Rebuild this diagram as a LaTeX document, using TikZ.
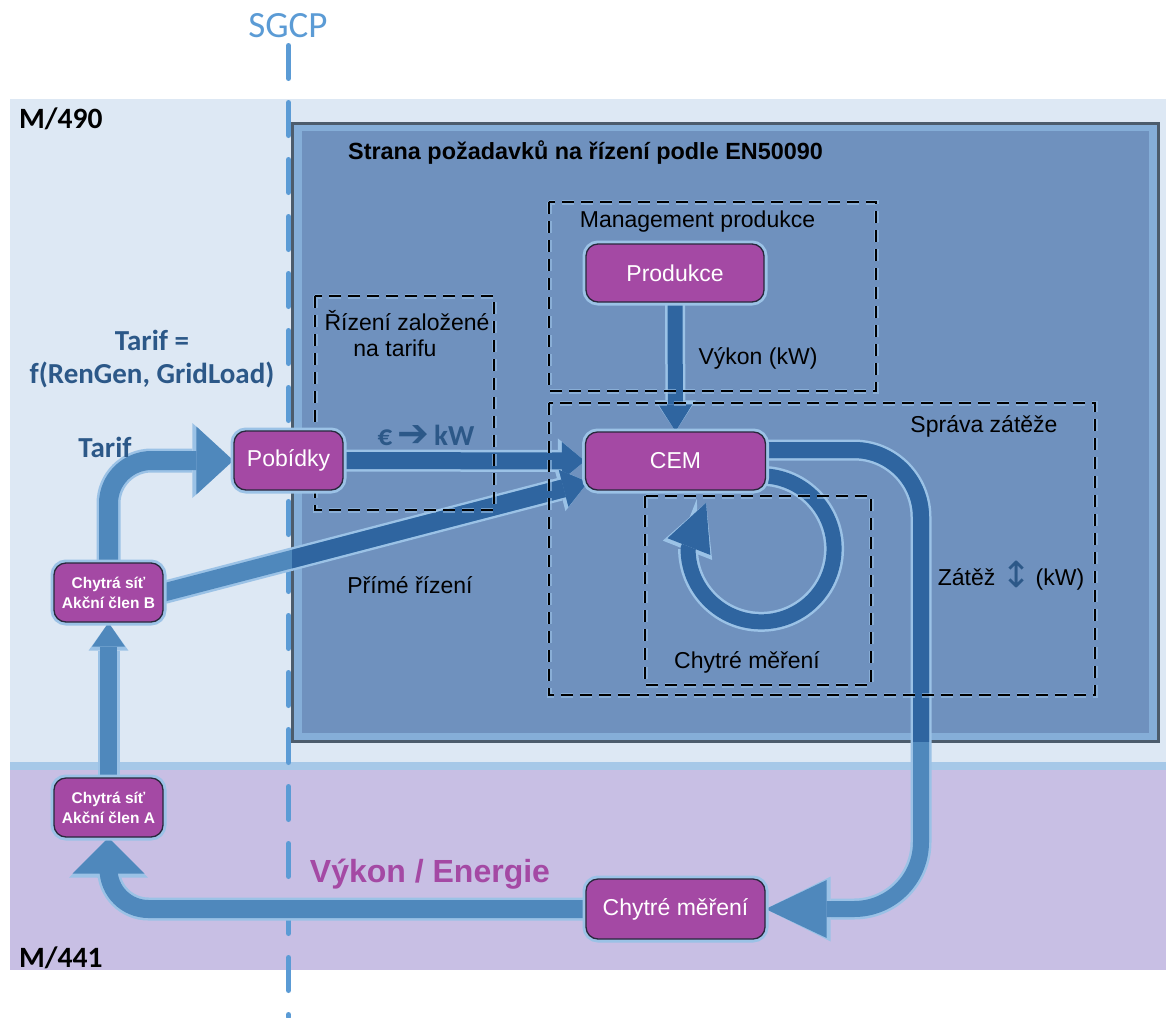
\documentclass[tikz,border=0pt]{standalone}
\usepackage{fontspec}
\setmainfont{Liberation Sans}
\newfontfamily\carl{Carlito}
\newfontfamily\dejavu{DejaVu Sans}
\usetikzlibrary{arrows.meta,calc}

\definecolor{bandblue}{RGB}{221,232,244}
\definecolor{bandline}{RGB}{166,200,232}
\definecolor{lav}{RGB}{200,191,228}
\definecolor{boxborder}{RGB}{76,92,108}
\definecolor{boxrim}{RGB}{133,174,216}
\definecolor{boxfill}{RGB}{111,145,190}
\definecolor{purp}{RGB}{164,73,164}
\definecolor{nodeedge}{RGB}{40,40,60}
\definecolor{arrlight}{RGB}{79,136,188}
\definecolor{arrdark}{RGB}{47,101,160}
\definecolor{glowc}{RGB}{155,194,230}
\definecolor{sgcpc}{RGB}{91,155,213}
\definecolor{tarifc}{RGB}{44,88,136}

\pgfdeclarelayer{bgl}
\pgfdeclarelayer{arrl}
\pgfdeclarelayer{dashl}
\pgfsetlayers{bgl,arrl,dashl,main}

% block arrows: a soft halo pass, then the arrow body
\newif\ifglowpass
\def\splitcol{split}
\newcommand\blockarrow[6]{% #1 path options, #2 colour, #3 shaft, #4 head width, #5 head length, #6 path
  \pgfmathsetmacro\gshaft{#3+5}%
  \pgfmathsetmacro\gwidth{#4+7}%
  \pgfmathsetmacro\glength{#5+4}%
  \ifglowpass
    \draw[#1, color=glowc, line width=\gshaft pt,
      -{Triangle[width=\gwidth pt, length=\glength pt, line width=0pt]}] #6;
  \else
    \def\tmpcol{#2}%
    \ifx\tmpcol\splitcol
      \draw[#1, color=arrlight, line width=#3pt,
        -{Triangle[width=#4pt, length=#5pt, line width=0pt]}] #6;
      \begin{scope}
        \clip (292,123) rectangle (1159,741);
        \draw[#1, color=arrdark, line width=#3pt,
          -{Triangle[width=#4pt, length=#5pt, line width=0pt]}] #6;
      \end{scope}
    \else
      \draw[#1, color=#2, line width=#3pt,
        -{Triangle[width=#4pt, length=#5pt, line width=0pt]}] #6;
    \fi
  \fi}

\newcommand\allarrows{%
  \blockarrow{rounded corners=43pt}{arrlight}{19}{68}{37}{(actB.north) |- (pob.west)}%
  \blockarrow{}{arrdark}{17}{38}{23}{(pob.east) -- (cem.west)}%
  \blockarrow{}{split}{18}{38}{25}{(actB.east) -- (cemlow)}%
  \blockarrow{}{arrdark}{15}{34}{27}{(prod.south) -- (cem.north)}%
  \blockarrow{}{arrdark}{15}{46}{47}{(cemloop) arc[start angle=-86, end angle=180, radius=73] -- ++(18,-46)}%
  \blockarrow{rounded corners=67pt}{split}{16}{58}{61}{(cemout) -- (cemout -| bigcol) -- (bigcol |- meter.east) -- (meter.east)}%
  \blockarrow{}{arrlight}{17}{33}{24}{(actA.north) -- (actB.south)}%
  \blockarrow{rounded corners=40pt}{arrlight}{18}{72}{36}{(meter.west) -| (actA.south)}%
}

\begin{document}
\begin{tikzpicture}[x=1pt, y=-1pt,
  lbl/.style={inner sep=0pt, anchor=base, font=\fontsize{23}{27}\selectfont},
  unit/.style={rounded corners=12pt, fill=purp, draw=nodeedge, line width=1.3pt,
    text=white, inner sep=0pt, font=\fontsize{23}{27}\selectfont,
    preaction={draw=glowc, line width=7pt}},
  act/.style={unit, align=center, font=\bfseries\fontsize{15.5}{20}\selectfont,
    minimum width=109pt, minimum height=59pt},
  zone/.style={draw=black, line width=2pt, dash pattern=on 12pt off 7pt,
    preaction={draw=glowc, line width=5pt, dash pattern=on 12pt off 7pt, opacity=0.6}},
  tariftext/.style={lbl, text=tarifc, font=\carl\bfseries\fontsize{29}{32}\selectfont},
]
\useasboundingbox (0,0) rectangle (1166,1017);

% units
\node[unit, minimum width=178pt, minimum height=58pt] (prod) at (675,273) {Produkce};
\node[unit, minimum width=180pt, minimum height=58pt] (cem) at (675.5,461) {CEM};
\node[unit, minimum width=109pt, minimum height=59pt] (pob) at (288.5,460.5) {Pobídky};
\node[act] (actB) at (108.5,592.5) {Chytrá síť\\Akční člen B};
\node[act] (actA) at (108.5,807.5) {Chytrá síť\\Akční člen A};
\node[unit, minimum width=179pt, minimum height=60pt] (meter) at (675.5,909) {Chytré měření};

\coordinate (cemlow) at ($(cem.west)+(3,21)$);
\coordinate (cemloop) at ($(cem.east)+(0,15)$);
\coordinate (cemout) at ($(cem.east)+(0,-11)$);
\coordinate (bigcol) at (921,700);

% domains, control box and the SGCP boundary
\begin{pgfonlayer}{bgl}
  \fill[bandblue] (10,99) rectangle (1166,763);
  \fill[bandline] (10,762) rectangle (1166,770);
  \fill[lav] (10,770) rectangle (1166,970);
  \draw[draw=boxborder, line width=3pt, fill=boxrim] (292.5,123.5) rectangle (1158.5,741.5);
  \fill[boxfill] (302,131) rectangle (1149,733);
  \coordinate (sgcptop) at (288.5,45.5);
  \coordinate (sgcpbot) at (288.5,1017);
  \draw[sgcpc, line width=5pt, line cap=round, dash pattern=on 33pt off 24pt] (sgcptop) -- (sgcpbot);
\end{pgfonlayer}

% flows
\begin{pgfonlayer}{arrl}
  \glowpasstrue\allarrows
  \glowpassfalse\allarrows
\end{pgfonlayer}

% functional zones
\begin{pgfonlayer}{dashl}
  \draw[zone] (549,202) rectangle (876,391);
  \draw[zone] (315,296) rectangle (494,510);
  \draw[zone] (549,403) rectangle (1095,695);
  \draw[zone] (645,496) rectangle (871,685);
\end{pgfonlayer}

% labels
\node[lbl, text=sgcpc, font=\carl\fontsize{37}{40}\selectfont] (sgcp) at (288,37) {SGCP};
\node[lbl, anchor=base west, font=\carl\bfseries\fontsize{29.5}{32}\selectfont] (m490) at (19,128) {M/490};
\node[lbl, anchor=base west, font=\carl\bfseries\fontsize{29.5}{32}\selectfont] (m441) at (19,967) {M/441};
\node[lbl, font=\bfseries\fontsize{23.4}{27}\selectfont] (title) at (585.5,159) {Strana požadavků na řízení podle EN50090};
\node[lbl] (mgmt) at (697.5,227) {Management produkce};
\node[lbl] (vykon) at (758,364) {Výkon (kW)};
\node[lbl] (riz1) at (407,330) {Řízení založené};
\node[lbl] (riz2) at (395,356) {na tarifu};
\node[tariftext] (eurkw) at (426,445) {€\hspace{5pt}{\dejavu\bfseries\fontsize{38}{40}\selectfont\raisebox{-1pt}{➔}}\hspace{5pt}kW};
\node[lbl] (prime) at (410,593) {Přímé řízení};
\node[lbl] (sprava) at (984,432) {Správa zátěže};
\node[lbl] (zatez) at (1011,585) {Zátěž {\dejavu\color{tarifc}\fontsize{36}{38}\selectfont\raisebox{-2pt}{↕}}\,(kW)};
\node[lbl] (chm) at (747,668) {Chytré měření};
\node[lbl, text=purp, font=\bfseries\fontsize{32}{36}\selectfont] (energie) at (430,882) {Výkon / Energie};
\node[tariftext] (tarifeq) at (152,350) {Tarif =};
\node[tariftext] (tariff) at (152,383) {f(RenGen, GridLoad)};
\node[tariftext] (tarif) at (105,457) {Tarif};
\end{tikzpicture}
\end{document}
